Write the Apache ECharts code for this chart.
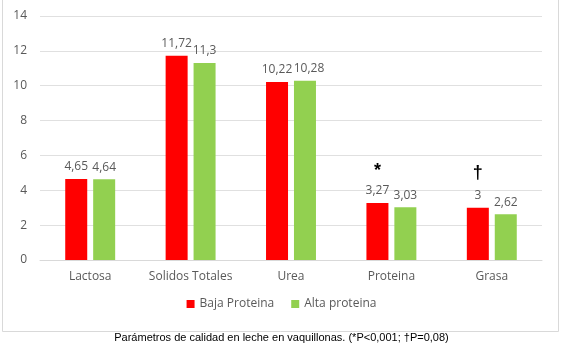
<!DOCTYPE html>
<html>
<head>
<meta charset="utf-8">
<script src="https://cdn.jsdelivr.net/npm/echarts@6/dist/echarts.min.js"></script>
<style>
  html, body { margin: 0; padding: 0; background: #fff; }
  #chart { width: 563px; height: 351px; }
</style>
</head>
<body>
<div id="chart"></div>
<script>
// datos
const categories = ["Lactosa", "Solidos Totales", "Urea", "Proteina", "Grasa"];
const bajaProteina = [4.65, 11.72, 10.22, 3.27, 3];
const altaProteina = [4.64, 11.3, 10.28, 3.03, 2.62];
const yTicks = { min: 0, max: 14, interval: 2 };
// marcas de significancia sobre la categoría
const marcas = [
  { cat: "Proteina", y: 5.1, text: "*" },
  { cat: "Grasa", y: 5.0, text: "†" },
];
const caption = "Parámetros de calidad en leche en vaquillonas. (*P<0,001; †P=0,08)";

const txtFont = "'Open Sans', 'Noto Sans', sans-serif";
const coma = (v) => String(v).replace(".", ",");

const chart = echarts.init(document.getElementById("chart"));

const valueLabel = {
  show: true,
  position: "top",
  distance: 6,
  color: "#595959",
  fontSize: 12,
  fontFamily: txtFont,
  formatter: (p) => coma(p.value),
};

// en Urea la etiqueta verde queda corrida a la derecha (como en el original)
const altaData = altaProteina.map((v, i) =>
  categories[i] === "Urea" ? { value: v, label: { offset: [4, 0] } } : v
);

const options = {
  animation: false,
  backgroundColor: "#fff",
  grid: { left: 40, right: 21, top: 16, bottom: 91 },
  legend: {
    bottom: 36,
    left: "center",
    itemWidth: 8,
    itemHeight: 8,
    itemGap: 17,
    icon: "rect",
    textStyle: { color: "#595959", fontSize: 12, fontFamily: txtFont },
    data: ["Baja Proteina", "Alta proteina"],
  },
  xAxis: {
    type: "category",
    data: categories,
    axisLine: { lineStyle: { color: "#d9d9d9" } },
    axisTick: { show: false },
    axisLabel: { interval: 0, color: "#595959", fontSize: 12, margin: 11, fontFamily: txtFont },
  },
  yAxis: {
    type: "value",
    min: yTicks.min,
    max: yTicks.max,
    interval: yTicks.interval,
    axisLine: { show: false },
    axisTick: { show: false },
    axisLabel: { color: "#595959", fontSize: 12, margin: 13, fontFamily: txtFont },
    splitLine: { lineStyle: { color: "#e0e0e0" } },
  },
  series: [
    {
      name: "Baja Proteina",
      type: "bar",
      data: bajaProteina,
      barWidth: 22,
      barGap: "27%",
      itemStyle: { color: "#ff0000" },
      label: valueLabel,
      markPoint: {
        symbol: "circle",
        symbolSize: 0,
        label: {
          show: true,
          position: "inside",
          color: "#000",
          fontSize: 18,
          fontWeight: "bold",
          fontFamily: "'Liberation Sans', sans-serif",
          formatter: (p) => p.name,
        },
        data: marcas.map((m) => ({ name: m.text, coord: [m.cat, m.y] })),
      },
    },
    {
      name: "Alta proteina",
      type: "bar",
      data: altaData,
      barWidth: 22,
      itemStyle: { color: "#92d050" },
      label: valueLabel,
    },
  ],
  graphic: [
    {
      type: "rect",
      shape: { x: 2.5, y: -1, width: 556, height: 332.5 },
      style: { fill: "none", stroke: "#d9d9d9", lineWidth: 1 },
      silent: true,
    },
    {
      type: "text",
      left: "center",
      top: 332,
      style: {
        text: caption,
        fill: "#000",
        fontSize: 11,
        fontFamily: "'Liberation Sans', Arial, sans-serif",
      },
    },
  ],
};

chart.setOption(options);
window.addEventListener("resize", () => chart.resize());
</script>
</body>
</html>
